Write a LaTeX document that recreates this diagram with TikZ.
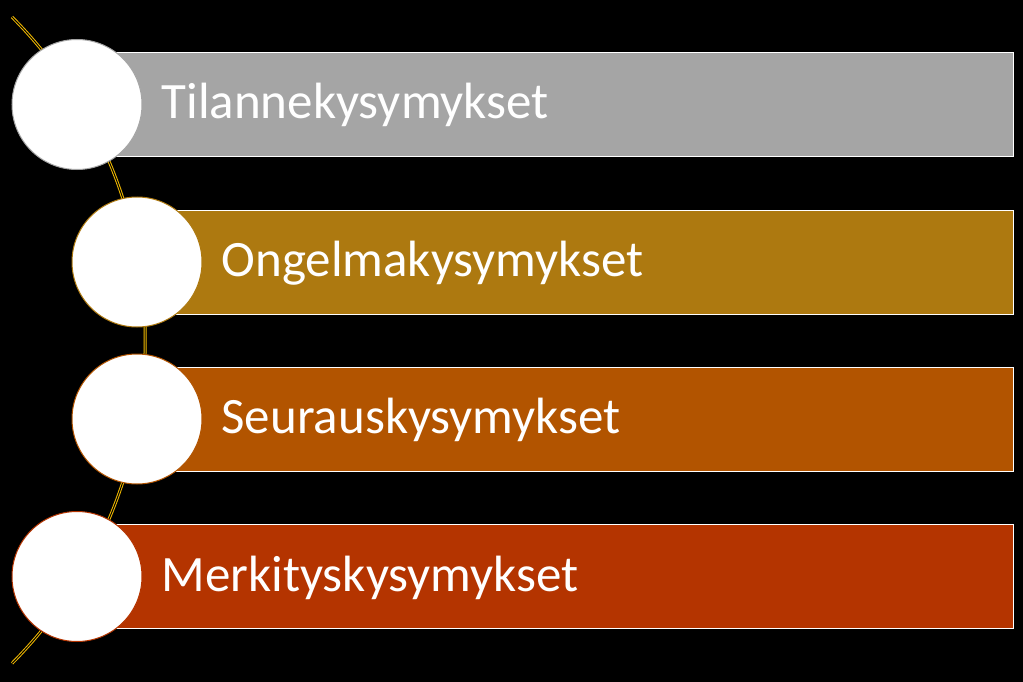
\documentclass[tikz,border=0pt]{standalone}
\usepackage{fontspec}
\setmainfont{Carlito}
\usepackage{xcolor}
\usetikzlibrary{positioning}
\definecolor{barGray}{RGB}{165,165,165}
\definecolor{barGold}{RGB}{173,121,16}
\definecolor{barOrange}{RGB}{178,84,0}
\definecolor{barRed}{RGB}{180,52,0}
\definecolor{threadGold}{RGB}{242,186,0}
\tikzset{
    x=1pt, y=-1pt, % pixel-like units, origin top left
    bar/.style={rectangle, draw=white, line width=1pt, anchor=west, minimum height=104pt,
        inner ysep=0pt, inner xsep=84pt, align=left, text=white,
        text height=36pt, text depth=7pt, font=\fontsize{51}{60}\selectfont},
    disc/.style={circle, fill=white, line width=1pt, minimum size=130pt, inner sep=0pt},
    thread/.style={draw=threadGold, double=black, double distance=1pt, line width=1pt},
}

\begin{document}
\begin{tikzpicture}
    \fill[black] (0,0) rectangle (1023,682);
    \useasboundingbox (0,0) rectangle (1023,682);

    % the thread behind the discs
    \coordinate (top) at (12,17);
    \draw[thread] (top) arc[start angle=-44.8, end angle=44.8, radius=458.7];

    % bars
    \node[bar, fill=barGray, minimum width=936pt, text width=768pt] (b1) at (77,104.5) {Tilannekysymykset};
    \node[bar, fill=barGold, minimum width=876pt, text width=708pt] (b2) at (137,262) {Ongelmakysymykset};
    \node[bar, fill=barOrange, minimum width=876pt, text width=708pt] (b3) at (137,419) {Seurauskysymykset};
    \node[bar, fill=barRed, minimum width=936pt, text width=768pt] (b4) at (77,576.5) {Merkityskysymykset};

    % discs
    \node[disc, draw=barGray] (c1) at (b1.west) {};
    \node[disc, draw=barGold] (c2) at (b2.west) {};
    \node[disc, draw=barOrange] (c3) at (b3.west) {};
    \node[disc, draw=barRed] (c4) at (b4.west) {};
\end{tikzpicture}
\end{document}
